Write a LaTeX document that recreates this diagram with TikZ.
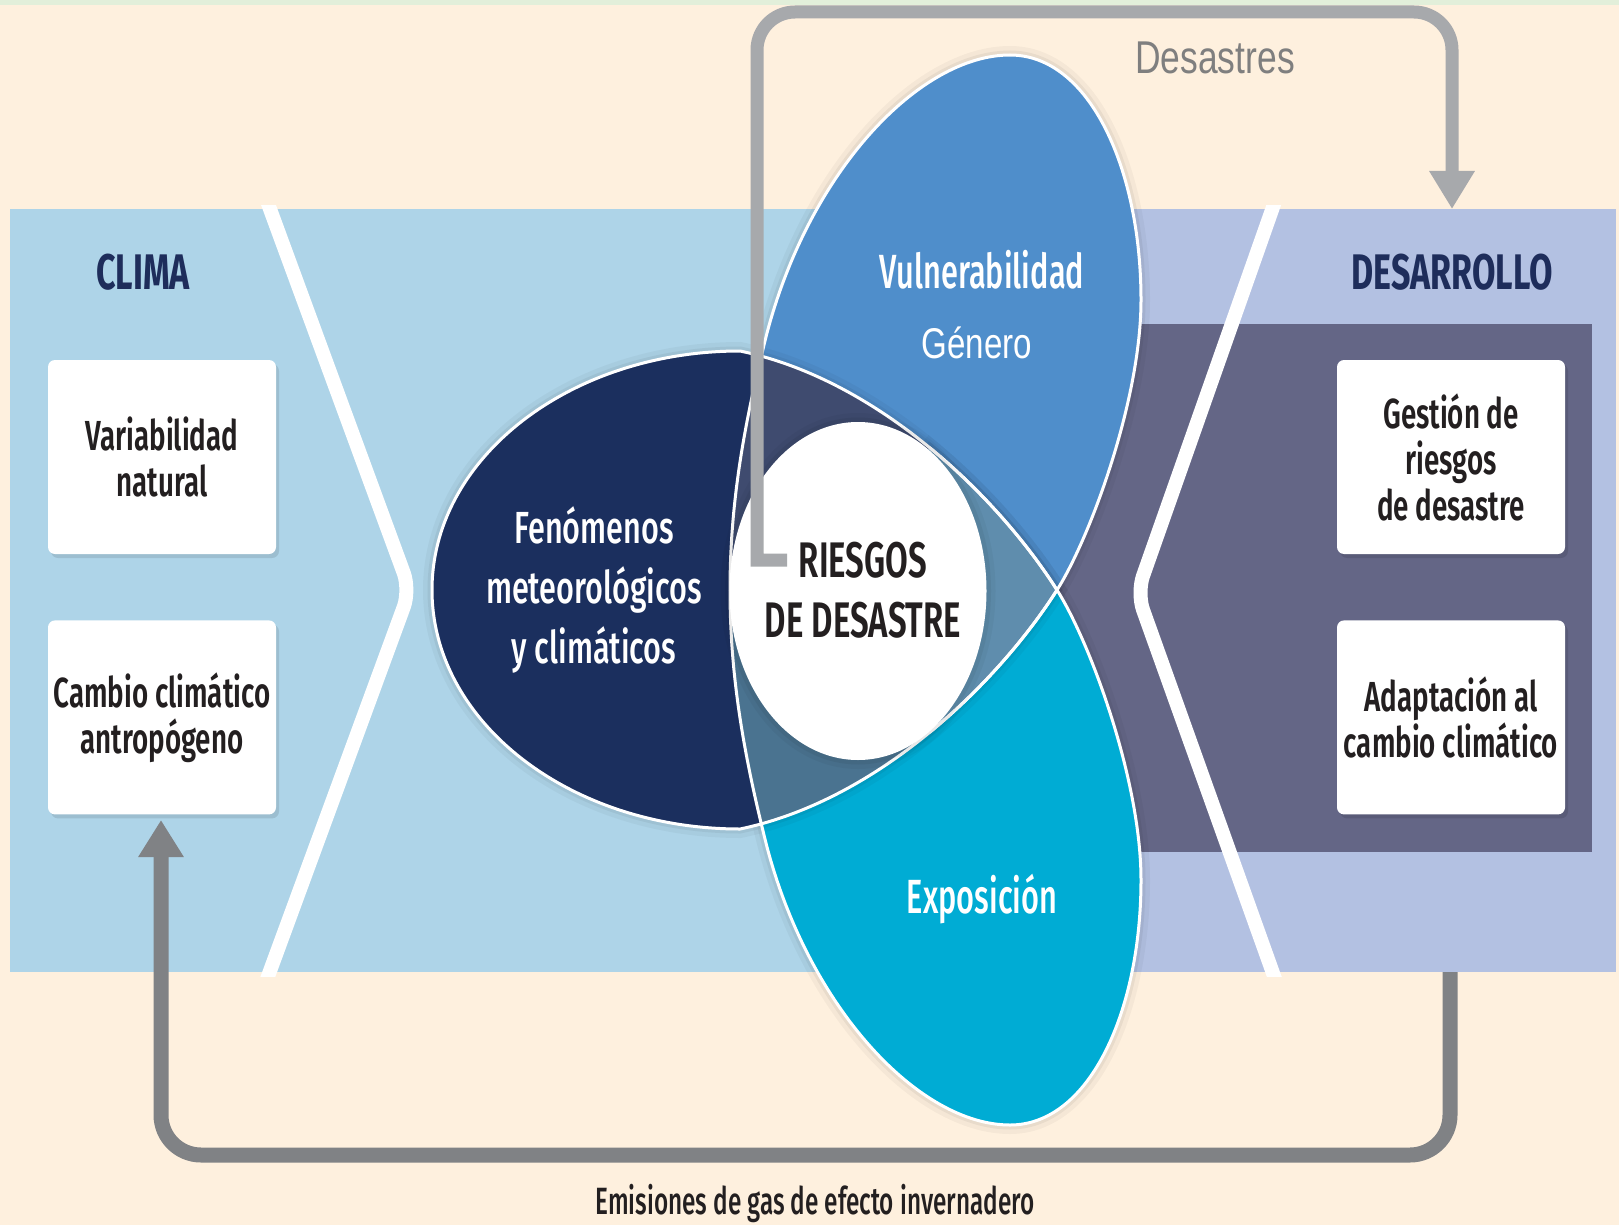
\documentclass[tikz,border=0pt]{standalone}
\usepackage{fontspec}
\setmainfont{Fira Sans}
\newfontfamily\semifont{Fira Sans SemiBold}[FakeStretch=0.66]
\newfontfamily\titlefont{Fira Sans Bold}[FakeStretch=0.68]
\newfontfamily\regfont{Fira Sans Medium}[FakeStretch=0.64]
\newfontfamily\ellfont{Fira Sans Medium}[FakeStretch=0.68]
\newfontfamily\arialfont{Liberation Sans}[FakeStretch=0.77]
\usetikzlibrary{arrows.meta,positioning,shapes.geometric}

\definecolor{cream}{HTML}{FEF0DE}
\definecolor{mint}{HTML}{E2EFDA}
\definecolor{skyblue}{HTML}{AED4E8}
\definecolor{lavender}{HTML}{B3C1E2}
\definecolor{slate}{HTML}{646686}
\definecolor{navy}{HTML}{1B2F5E}
\definecolor{vulblue}{HTML}{4F8ECB}
\definecolor{expcyan}{HTML}{00ACD4}
\definecolor{navyvul}{HTML}{3F4B6F}
\definecolor{navyexp}{HTML}{4A7390}
\definecolor{allthree}{HTML}{5F8DAD}
\definecolor{lightgrey}{HTML}{A7A9AC}
\definecolor{darkgrey}{HTML}{808285}
\definecolor{desgrey}{HTML}{7F7F7F}
\definecolor{inktext}{HTML}{231F20}
\definecolor{titleblue}{HTML}{1E2D5B}

% contornos de los petalos y del ovalo
\newcommand{\petalup}{(929.6,732.4) .. controls (984.25,687.5) and (1028.5,635) .. (1057,590)
  .. controls (1090,538) and (1141,400) .. (1141,300) .. controls (1141,170) and (1090,55) .. (1010,55)
  .. controls (920,55) and (810,170) .. (767,333) .. controls (745,420) and (730,500) .. (730,590)}
\newcommand{\petaldown}{(929.6,447.6) .. controls (984.25,492.5) and (1028.5,545) .. (1057,590)
  .. controls (1090,642) and (1141,780) .. (1141,880) .. controls (1141,1010) and (1090,1125) .. (1010,1125)
  .. controls (920,1125) and (810,1010) .. (767,847) .. controls (745,760) and (730,680) .. (730,590)}
\newcommand{\petalupshape}{\petalup -- (858,650) -- cycle}
\newcommand{\petaldownshape}{\petaldown -- (858,530) -- cycle}
\newcommand{\fenomeno}{(1057,590) .. controls (1000,680) and (880,800) .. (740,829)
  .. controls (570,829) and (432,722) .. (432,590) .. controls (432,458) and (570,351) .. (740,351)
  .. controls (880,380) and (1000,500) .. (1057,590) -- cycle}

\begin{document}
\begin{tikzpicture}[x=1pt, y=-1pt,
    haze/.style={preaction={draw=black, opacity=0.035, line width=18pt},
                 preaction={draw=black, opacity=0.05, line width=9pt}},
    box/.style={fill=white, rounded corners=7pt, minimum width=228pt, minimum height=194pt,
                inner sep=2pt, align=center, text=inktext,
                preaction={fill=black, opacity=0.1, transform canvas={xshift=3pt, yshift=-4pt}},
                font=\semifont\fontsize{42}{46}\selectfont},
    outline/.style={draw=white, line width=3pt},
    chevron/.style={white, line width=14pt, rounded corners=18pt},
    title/.style={anchor=base, text=titleblue, font=\titlefont\fontsize{50}{50}\selectfont},
    petaltext/.style={anchor=base, text=white, font=\regfont\fontsize{48}{48}\selectfont},
    greyline/.style={line width=13pt, lightgrey, -{Triangle[width=43pt,length=38pt]}},
    darkline/.style={line width=15pt, darkgrey, rounded corners=40pt, -{Triangle[width=43pt,length=37pt]}}]
\useasboundingbox (0,0) rectangle (1619,1225);

% fondo y paneles
\fill[cream] (0,0) rectangle (1619,1225);
\fill[mint] (0,0) rectangle (1619,5);
\fill[skyblue] (10,209) rectangle (1100,972);
\fill[lavender] (1100,209) rectangle (1616,972);
\fill[slate] (1000,324) rectangle (1592,852);
\begin{scope}
  \clip (10,206) rectangle (1616,976);
  \draw[chevron] (263,190) -- (410,590) -- (263,990);
  \draw[chevron] (1279,190) -- (1137,593) -- (1279,990);
\end{scope}

% titulos y cajas
\node[title] (clima) at (143,289) {CLIMA};
\node[title] (desarrollo) at (1452,289) {DESARROLLO};
\node[box] (natural) at (162,457) {Variabilidad\\natural};
\node[box] (antro) [below=66pt of natural] {Cambio climático\\antropógeno};
\node[box] (gestion) at (1451,457) {Gestión de\\riesgos\\de desastre};
\node[box] (adapt) [below=66pt of gestion] {Adaptación al\\cambio climático};

% emisiones
\coordinate (emisIni) at (1450,972);
\coordinate (emisEnd) at (161,820);
\draw[darkline] (emisIni) -- (1450,1155) -- (161,1155) -- (emisEnd);

% petalos y ovalo
\fill[vulblue, haze] \petalupshape;
\fill[expcyan, haze] \petaldownshape;
\fill[navy, haze] \fenomeno;
\begin{scope}
  \clip \fenomeno;
  \fill[navyvul] \petalupshape;
  \fill[navyexp] \petaldownshape;
  \clip \petalupshape;
  \fill[allthree] \petaldownshape;
\end{scope}
\draw[outline] \fenomeno;
\draw[outline] \petalup;
\draw[outline] \petaldown;

% riesgos
\node[ellipse, fill=white, minimum width=257pt, minimum height=338pt, haze] (riesgo) at (858,591) {};
\node[align=center, text=inktext, font=\semifont\fontsize{50}{60}\selectfont] (riesgotxt) at (863,590) {RIESGOS\\DE DESASTRE};

% desastres
\coordinate (desIni) at (787,560);
\coordinate (desEnd) at (1452,209);
\draw[greyline] (desIni) -- (757,560) [rounded corners=20pt] -- (757,400) [rounded corners=38pt] -- (757,12) -- (1452,12) -- (desEnd);

% textos
\node[align=center, text=white, font=\ellfont\fontsize{45}{60}\selectfont] (fenomtxt) at (594,590) {Fenómenos\\meteorológicos\\y climáticos};
\node[petaltext] (vul) at (982,288) {Vulnerabilidad};
\node[anchor=base, text=white, font=\arialfont\fontsize{43}{43}\selectfont] (genero) at (977,358) {Género};
\node[petaltext] (expo) at (982,913) {Exposición};
\node[anchor=base, text=desgrey, font=\arialfont\fontsize{46}{46}\selectfont] (desastres) at (1215,74) {Desastres};
\node[anchor=base, text=inktext, font=\regfont\fontsize{38}{38}\selectfont] (emisiones) at (815,1214) {Emisiones de gas de efecto invernadero};
\end{tikzpicture}
\end{document}
